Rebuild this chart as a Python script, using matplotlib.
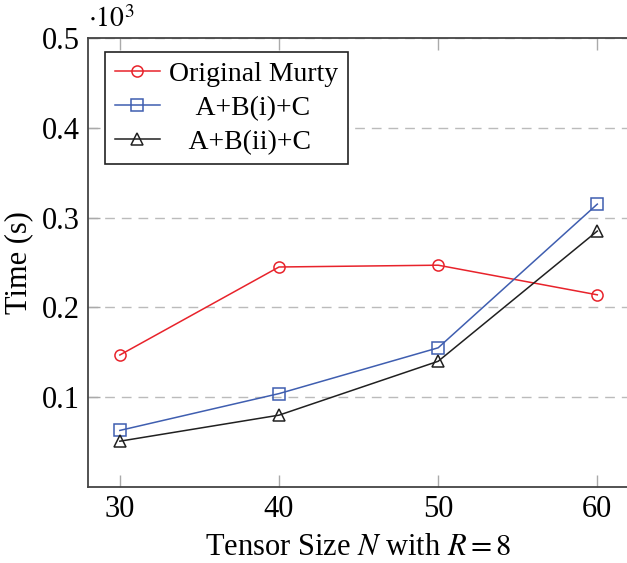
import matplotlib.pyplot as plt
from matplotlib.ticker import FuncFormatter

plt.rcParams['font.family'] = ['Liberation Serif', 'DejaVu Serif']
plt.rcParams['mathtext.fontset'] = 'stix'

sizes = [30, 40, 50, 60]
# time in seconds
murty = [147, 245, 247, 214]
abic = [63, 104, 155, 315]
abiic = [51, 80, 140, 285]

# leading spaces roughly centre the shorter entries like pgfplots does
labels = ['Original Murty', '    A+B(i)+C', '   A+B(ii)+C']
colors = ['#e8232b', '#3f5eb0', '#202020']
markers = ['o', 's', '^']

fig = plt.figure(figsize=(6.27, 5.63), dpi=100)
ax = fig.add_axes([0.1404, 0.135, 0.863, 0.7975])

for ys, lab, c, m in zip([murty, abic, abiic], labels, colors, markers):
    ax.plot(sizes, ys, color=c, lw=1.1, marker=m, markersize=8,
            markerfacecolor='none', markeredgecolor=c, markeredgewidth=1.1, label=lab)

ax.set_xlim(28, 62)
ax.set_ylim(0, 500)
ax.set_xticks(sizes)
ax.set_yticks([100, 200, 300, 400, 500])
ax.yaxis.set_major_formatter(FuncFormatter(lambda v, p: '%.1f' % (v / 1000)))
ax.grid(axis='y', color='#bbbbbb', ls=(0, (7, 5)), lw=1)
ax.set_axisbelow(True)
ax.tick_params(direction='in', length=8.5, width=1, color='#aaaaaa', labelsize=22,
               top=True, right=False, pad=6)
for s in ax.spines.values():
    s.set_color('#444444')
    s.set_linewidth(1.3)
# the right frame edge falls just outside the picture in the original
ax.spines['right'].set_visible(False)

ax.text(0.0, 1.012, r'$\cdot 10^3$', transform=ax.transAxes, fontsize=20,
        ha='left', va='bottom')
ax.set_xlabel(r'Tensor Size $N$ with $R = 8$', fontsize=22, labelpad=6)
ax.set_ylabel('Time (s)', fontsize=22, labelpad=6)

leg = ax.legend(loc='upper left', bbox_to_anchor=(0.031, 0.969), borderaxespad=0,
                fontsize=20, fancybox=False, edgecolor='#222222', framealpha=1,
                handlelength=1.65, borderpad=0.35, labelspacing=0.3, handletextpad=0.3)
leg.get_frame().set_linewidth(1.2)

fig.savefig('out.png', dpi=100)
